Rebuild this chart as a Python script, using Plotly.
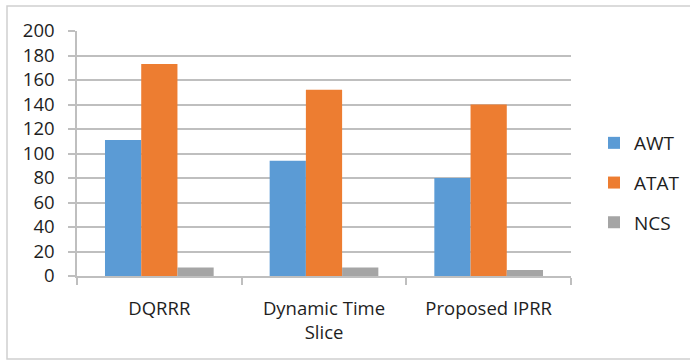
import plotly.graph_objects as go

categories = ["DQRRR", "Dynamic Time<br>Slice", "Proposed IPRR"]
awt = [111, 94, 80]
atat = [173, 152, 140]
ncs = [7, 7, 5]

series = [("AWT", awt, "#5B9BD5"), ("ATAT", atat, "#ED7D31"), ("NCS", ncs, "#A5A5A5")]

FONT = "Open Sans"
TEXT = "#1e1e1e"
GRID = "#bfbfbf"

fig = go.Figure()
for name, vals, color in series:
    fig.add_trace(go.Bar(
        name=name, x=categories, y=vals, marker_color=color,
        marker_line_width=0, legendgroup=name,
    ))

W, H = 690, 361
L, R, T, B = 77, 119, 31, 85
pw, ph = W - L - R, H - T - B

def px_x(x):
    return (x - L) / pw

def px_y(y):
    return (H - B - y) / ph

fig.update_layout(
    width=W, height=H,
    margin=dict(l=L, r=R, t=T, b=B, pad=0, autoexpand=False),
    paper_bgcolor="white", plot_bgcolor="white",
    barmode="group", bargap=0.34, bargroupgap=0,
    font=dict(family=FONT, size=18, color=TEXT),
    legend=dict(
        x=px_x(594), y=px_y(183), xanchor="left", yanchor="middle",
        font=dict(family=FONT, size=19, color=TEXT),
        traceorder="grouped", tracegroupgap=12,
        bgcolor="rgba(0,0,0,0)",
    ),
    xaxis=dict(
        type="category", showline=True, linecolor=GRID, linewidth=1.5,
        ticks="outside", tickson="boundaries", ticklen=7, tickcolor=GRID,
        tickwidth=1.5, showgrid=False, ticklabelstandoff=15,
        tickfont=dict(family=FONT, size=18.5, color=TEXT),
    ),
    yaxis=dict(
        range=[0, 200], dtick=20, showline=True, linecolor=GRID, linewidth=1.5,
        ticks="outside", ticklen=7, tickcolor=GRID, tickwidth=1.5,
        showgrid=True, gridcolor=GRID, gridwidth=1.5, zeroline=False,
        ticklabelstandoff=10,
        tickfont=dict(family=FONT, size=18.5, color=TEXT),
    ),
    shapes=[dict(
        type="rect", xref="paper", yref="paper",
        x0=px_x(7), x1=px_x(700), y0=px_y(359), y1=px_y(6),
        line=dict(color="#d0d0d0", width=1.5), fillcolor="rgba(0,0,0,0)",
        layer="below",
    )],
)

fig.write_html("out.html")
